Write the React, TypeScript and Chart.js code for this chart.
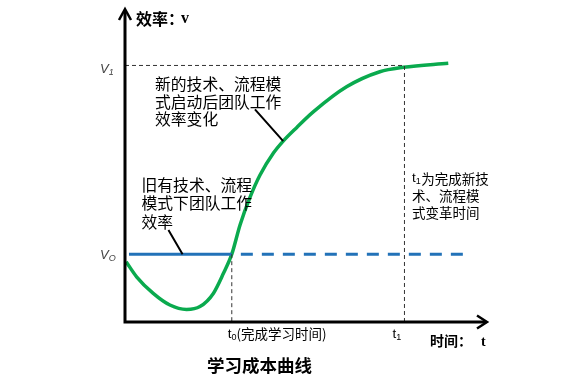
import React, { useEffect, useRef } from "react";
import { Chart, registerables } from "chart.js";

Chart.register(...registerables);

// ---- data (conceptual units: t on 0..100, efficiency on 0..100) ----
const V0 = 21.6; // old efficiency level
const V1 = 81.7; // new efficiency level
const T0 = 29.5; // learning done
const T1 = 77.2; // transformation done
const OLD_START = 1.1;
const OLD_END = 94.8;

const curveT = [0.3, 3.2, 7.8, 12.4, 17.0, 20.7, 24.4, 27.2, 29.5, 31.8, 34.5, 37.3, 41.0, 43.7, 47.4, 52.0, 61.2, 70.4, 76.9, 89.3];
const curveV = [19.2, 14.4, 9.1, 5.4, 4.0, 4.9, 9.1, 15.5, 21.6, 31.0, 39.6, 46.8, 53.8, 57.6, 61.9, 66.9, 74.9, 79.7, 81.1, 82.4];

const yAxisTitle = "效率";
const yAxisVar = "v";
const xAxisTitle = "时间";
const xAxisVar = "t";
const chartTitle = "学习成本曲线";
const newNote = ["新的技术、流程模", "式启动后团队工作", "效率变化"];
const oldNote = ["旧有技术、流程", "模式下团队工作", "效率"];
const t1Note = ["为完成新技", "术、流程模", "式变革时间"];
const t0Label = "(完成学习时间)";

// annotation anchor points (data units)
const newLeaderFrom = { x: 35.9, y: 67.7 };
const newLeaderTo = { x: 43.7, y: 57.6 };
const oldLeaderFrom = { x: 12.0, y: 29.3 };
const oldLeaderTo = { x: 15.9, y: V0 };

const CJK = '"Noto Sans CJK SC", "Noto Sans", sans-serif';
const GREEN = "#0AAA4E";
const BLUE = "#2272B8";

function sub(ctx: CanvasRenderingContext2D, base: string, s: string, x: number, y: number, size: number, italic = false, color = "#000") {
  ctx.fillStyle = color;
  ctx.textBaseline = "middle";
  ctx.textAlign = "left";
  ctx.font = `${italic ? "italic " : ""}${size}px "Liberation Sans", sans-serif`;
  ctx.fillText(base, x, y);
  const w = ctx.measureText(base).width;
  ctx.font = `${italic ? "italic " : ""}${Math.round(size * 0.7)}px "Liberation Sans", sans-serif`;
  ctx.fillText(s, x + w, y + size * 0.25);
  return w + ctx.measureText(s).width;
}

const annotPlugin = {
  id: "annot",
  afterDatasetsDraw(chart: any) {
    const { ctx, scales, chartArea } = chart;
    const xs = scales.x, ys = scales.y;
    const px = (v: number) => xs.getPixelForValue(v);
    const py = (v: number) => ys.getPixelForValue(v);
    ctx.save();

    // leader lines
    ctx.strokeStyle = "#000";
    ctx.lineWidth = 2;
    ctx.beginPath();
    ctx.moveTo(px(newLeaderFrom.x), py(newLeaderFrom.y));
    ctx.lineTo(px(newLeaderTo.x), py(newLeaderTo.y));
    ctx.moveTo(px(oldLeaderFrom.x), py(oldLeaderFrom.y));
    ctx.lineTo(px(oldLeaderTo.x), py(oldLeaderTo.y));
    ctx.stroke();

    // axes
    const ox = px(0), oy = py(0);
    const right = chartArea.right;
    ctx.lineWidth = 3;
    ctx.beginPath();
    ctx.moveTo(ox, oy + 1.5);
    ctx.lineTo(ox, 10);
    ctx.moveTo(ox - 1.5, oy);
    ctx.lineTo(right - 1, oy);
    ctx.stroke();
    ctx.lineWidth = 2.5;
    ctx.lineJoin = "miter";
    ctx.beginPath();
    ctx.moveTo(ox - 6, 20);
    ctx.lineTo(ox, 9);
    ctx.lineTo(ox + 6, 20);
    ctx.moveTo(right - 10, oy - 6.5);
    ctx.lineTo(right, oy);
    ctx.lineTo(right - 10, oy + 6.5);
    ctx.stroke();

    // axis titles
    ctx.fillStyle = "#000";
    ctx.textBaseline = "middle";
    ctx.textAlign = "left";
    ctx.font = `bold 16px ${CJK}`;
    ctx.fillText(yAxisTitle + "：", 136, 19);
    ctx.font = 'bold 16px "Liberation Serif", serif';
    ctx.fillText(yAxisVar, 181, 19);
    ctx.font = `bold 14px ${CJK}`;
    ctx.fillText(xAxisTitle + "：", 430, 341);
    ctx.font = 'bold 14px "Liberation Serif", serif';
    ctx.fillText(xAxisVar, 481, 342);

    // v labels
    sub(ctx, "V", "1", 100, py(V1) + 4, 13, true, "#444");
    sub(ctx, "V", "O", 100, py(V0) + 1, 13, true, "#444");

    // notes
    ctx.fillStyle = "#000";
    ctx.font = `15.8px ${CJK}`;
    newNote.forEach((s, i) => ctx.fillText(s, 155, 84 + i * 17.5));
    oldNote.forEach((s, i) => ctx.fillText(s, 141.5, 185 + i * 18.3));

    // t1 note
    const w = sub(ctx, "t", "1", 412, 178.5, 13.5);
    ctx.font = `13.5px ${CJK}`;
    ctx.fillStyle = "#000";
    ctx.fillText(t1Note[0], 412 + w + 0.5, 178.5);
    ctx.fillText(t1Note[1], 412, 196);
    ctx.fillText(t1Note[2], 412, 212.5);

    // tick labels
    const w0 = sub(ctx, "t", "0", px(T0) - 4, 334, 13.5);
    ctx.font = `13.5px ${CJK}`;
    ctx.fillStyle = "#000";
    ctx.fillText(t0Label, px(T0) - 4 + w0, 334);
    sub(ctx, "t", "1", px(T1) - 12, 334, 13.5);

    // title
    ctx.font = `bold 17.5px ${CJK}`;
    ctx.fillStyle = "#000";
    ctx.fillText(chartTitle, 207, 365);

    ctx.restore();
  },
};

export default function App() {
  const ref = useRef<HTMLCanvasElement>(null);
  useEffect(() => {
    if (!ref.current) return;
    const refStyle = { borderColor: "#333", borderWidth: 1, borderDash: [4, 3], pointRadius: 0, showLine: true, clip: false as any };
    const chart = new Chart(ref.current, {
      type: "scatter",
      data: {
        datasets: [
          { ...refStyle, data: [{ x: 0, y: V1 }, { x: T1, y: V1 }, { x: T1, y: 0 }] },
          { ...refStyle, data: [{ x: T0, y: V0 }, { x: T0, y: 0 }] },
          { showLine: true, pointRadius: 0, borderColor: BLUE, borderWidth: 3, clip: false as any, data: [{ x: OLD_START, y: V0 }, { x: T0, y: V0 }] },
          { showLine: true, pointRadius: 0, borderColor: BLUE, borderWidth: 3, borderDash: [12, 9], clip: false as any, data: [{ x: T0 + 2.5, y: V0 }, { x: OLD_END, y: V0 }] },
          {
            showLine: true,
            pointRadius: 0,
            borderColor: GREEN,
            borderWidth: 3.5,
            cubicInterpolationMode: "monotone",
            clip: false as any,
            data: curveT.map((t, i) => ({ x: t, y: curveV[i] })),
          },
        ],
      },
      options: {
        responsive: false,
        animation: false,
        devicePixelRatio: 1,
        layout: { padding: { left: 125, right: 83, top: 8, bottom: 58 } },
        scales: {
          x: { type: "linear", min: 0, max: 100, display: false },
          y: { type: "linear", min: 0, max: 100, display: false },
        },
        plugins: { legend: { display: false }, tooltip: { enabled: false } },
      },
      plugins: [annotPlugin],
    });
    return () => chart.destroy();
  }, []);
  return (
    <div style={{ position: "absolute", left: 0, top: 0, width: 570, height: 380, background: "#fff" }}>
      <canvas ref={ref} width={570} height={380} />
    </div>
  );
}
